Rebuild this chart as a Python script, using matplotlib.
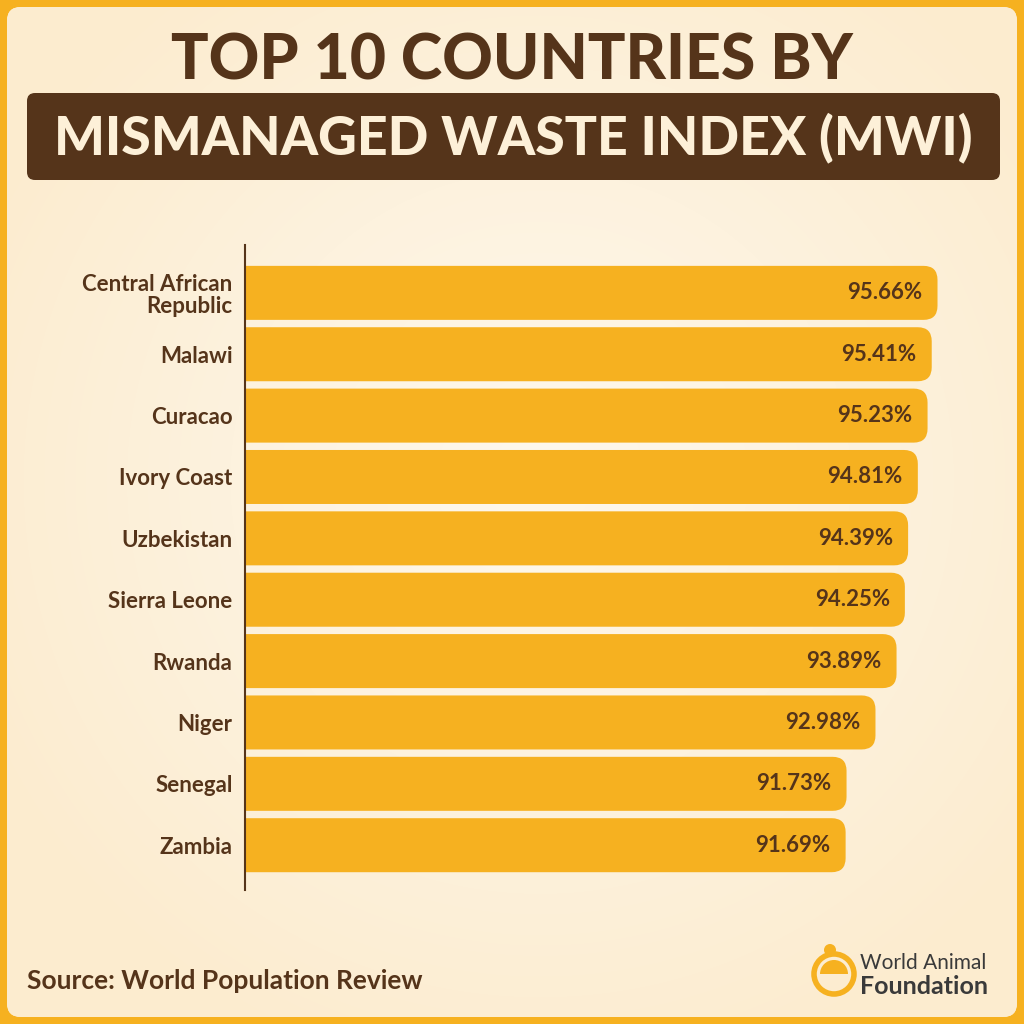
import numpy as np
import matplotlib
matplotlib.use('Agg')
import matplotlib.pyplot as plt
from matplotlib.patches import FancyBboxPatch, Circle, Wedge

countries = ['Central African\nRepublic', 'Malawi', 'Curacao', 'Ivory Coast', 'Uzbekistan',
             'Sierra Leone', 'Rwanda', 'Niger', 'Senegal', 'Zambia']
mwi = [95.66, 95.41, 95.23, 94.81, 94.39, 94.25, 93.89, 92.98, 91.73, 91.69]

title_top = 'TOP 10 COUNTRIES BY'
title_box = 'MISMANAGED WASTE INDEX (MWI)'
source = 'Source: World Population Review'

BROWN = '#55341a'
ORANGE = '#f6b120'
CREAM = '#fdeed4'

plt.rcParams['font.family'] = ['Lato', 'DejaVu Sans']

fig = plt.figure(figsize=(10.24, 10.24), dpi=100)
fig.patch.set_facecolor(ORANGE)

# background layer in pixel coords
bg = fig.add_axes([0, 0, 1, 1])
bg.set_xlim(0, 1024)
bg.set_ylim(1024, 0)
bg.axis('off')

panel = FancyBboxPatch((7, 7), 1010, 1010, boxstyle='round,pad=0,rounding_size=14',
                       facecolor=CREAM, edgecolor='none')
bg.add_patch(panel)
yy, xx = np.mgrid[0:1024, 0:1024]
r = np.sqrt((xx - 540) ** 2 + (yy - 480) ** 2) / 620
r = np.clip(r, 0, 1)
c_in = np.array([254, 248, 237]) / 255
c_out = np.array([252, 236, 207]) / 255
grad = c_in[None, None, :] * (1 - r[..., None]) + c_out[None, None, :] * r[..., None]
im = bg.imshow(grad, extent=(0, 1024, 1024, 0), zorder=1)
im.set_clip_path(panel)

bg.text(512, 62, title_top, ha='center', va='center', fontsize=45, fontweight='black',
        color=BROWN, zorder=3)
bg.add_patch(FancyBboxPatch((27, 93), 973, 87, boxstyle='round,pad=0,rounding_size=8',
                            facecolor=BROWN, edgecolor='none', zorder=2))
bg.text(513, 138, title_box, ha='center', va='center', fontsize=38.5, fontweight='black',
        color='#fdf0d8', zorder=3)

bg.text(27, 981, source, ha='left', va='center', fontsize=19, fontweight='bold',
        color=BROWN, zorder=3)

# logo
bg.add_patch(Circle((834, 974), 20, facecolor='none', edgecolor=ORANGE, lw=4, zorder=3))
bg.add_patch(Wedge((834, 974), 14, 180, 360, facecolor=ORANGE, edgecolor='none', zorder=3))
bg.add_patch(Circle((830, 950), 6, facecolor=ORANGE, edgecolor='none', zorder=3))
bg.text(860, 963, 'World Animal', ha='left', va='center', fontsize=15, color='#3a3a3a', zorder=3)
bg.text(860, 986, 'Foundation', ha='left', va='center', fontsize=18, fontweight='bold',
        color='#3a3a3a', zorder=3)

# chart
ax = fig.add_axes([245 / 1024, 134 / 1024, 755 / 1024, 645 / 1024])
ax.patch.set_alpha(0)
x0 = 65.74
ax.set_xlim(x0, 98.36)
ax.set_ylim(9.73, -0.78)

ypos = np.arange(len(countries))
bh = 0.88
for y, v in zip(ypos, mwi):
    ax.add_patch(FancyBboxPatch((x0 - 2, y - bh / 2), v - x0 + 2, bh,
                                boxstyle='round,pad=0,rounding_size=0.6',
                                mutation_aspect=0.38, facecolor=ORANGE, edgecolor='none'))
    ax.text(v - 0.65, y, f'{v:.2f}%', ha='right', va='center', fontsize=16,
            fontweight='bold', color=BROWN)

ax.set_yticks(ypos)
ax.set_yticklabels(countries, fontsize=16, fontweight='bold', color=BROWN,
                   linespacing=1.05)
ax.tick_params(axis='y', length=0, pad=9)
ax.set_xticks([])
for s in ['top', 'right', 'bottom']:
    ax.spines[s].set_visible(False)
ax.spines['left'].set_color(BROWN)
ax.spines['left'].set_linewidth(1.5)
ax.spines['left'].set_zorder(5)

fig.savefig('out.png', dpi=100, facecolor=fig.get_facecolor())
